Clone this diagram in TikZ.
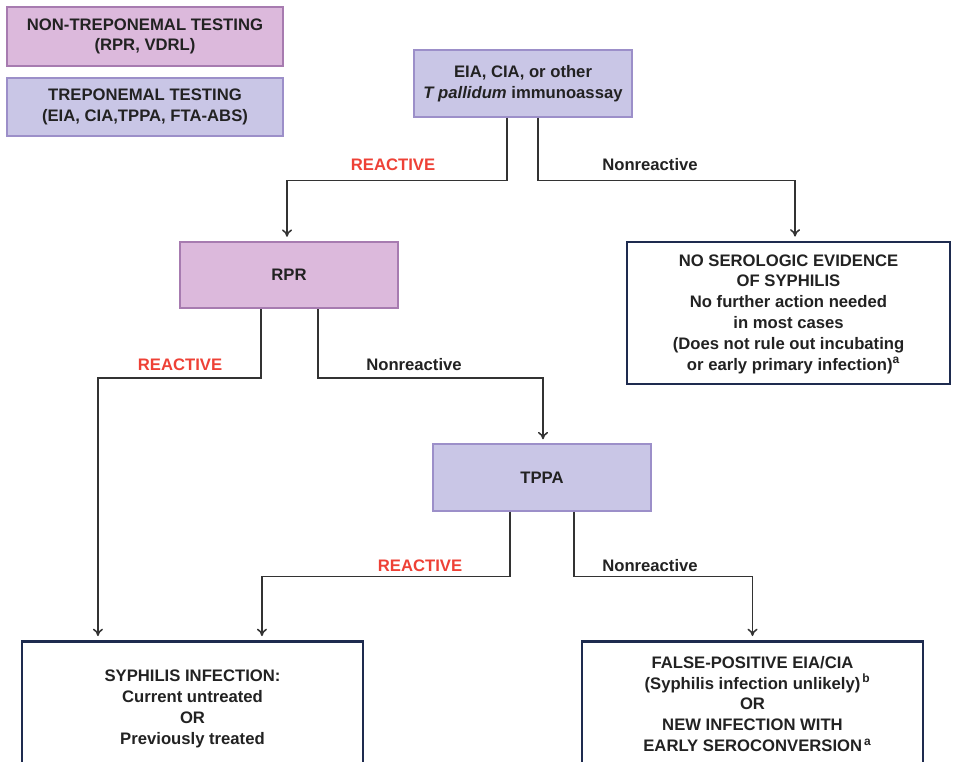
\documentclass[tikz,border=0pt]{standalone}
\usepackage{fontspec}
\setmainfont{Liberation Sans}
\usetikzlibrary{arrows.meta,calc}
\definecolor{pinkfill}{HTML}{DCB9DC}
\definecolor{pinkline}{HTML}{A77BB0}
\definecolor{lavfill}{HTML}{C9C6E6}
\definecolor{lavline}{HTML}{9C8FC9}
\definecolor{navy}{HTML}{1E2B4F}
\definecolor{txt}{HTML}{222222}
\definecolor{redlab}{HTML}{EE4136}
\definecolor{linecol}{HTML}{333333}
\newcommand{\supl}[1]{\raisebox{0.38em}{\fontsize{9}{9}\selectfont #1}}
\begin{document}
\begin{tikzpicture}[x=0.75pt,y=-0.75pt,
  every node/.style={font=\fontsize{12.5}{15.6}\selectfont\bfseries, text=txt, align=center, inner sep=0pt},
  pinkbox/.style={draw=pinkline, fill=pinkfill, line width=1.3pt, minimum width=163.5pt, minimum height=50pt},
  lavbox/.style={draw=lavline, fill=lavfill, line width=1.3pt, minimum width=163.5pt, minimum height=50pt},
  legpink/.style={draw=pinkline, fill=pinkfill, line width=1.3pt, minimum width=207pt, minimum height=44pt},
  leglav/.style={draw=lavline, fill=lavfill, line width=1.3pt, minimum width=207pt, minimum height=44pt},
  resbox/.style={draw=navy, line width=2.2pt, minimum width=255.75pt},
  conn/.style={draw=linecol, line width=1.15pt, -{To[length=5.5pt,width=7.5pt]}, shorten >=3pt},
  reactlab/.style={text=redlab},
  nonlab/.style={text=txt}]
\clip (0,0) rectangle (953,762);
\fill[white] (0,0) rectangle (953,762);

% legend
\node[legpink] (leg1) at (145,36.5) {NON-TREPONEMAL TESTING\\(RPR, VDRL)};
\node[leglav] (leg2) at (145,107) {TREPONEMAL TESTING\\(EIA, CIA,TPPA, FTA-ABS)};

% main boxes
\node[lavbox] (eia) at (523,83.5) {EIA, CIA, or other\\\textit{T pallidum} immunoassay};
\node[pinkbox] (rpr) at (289,275) {RPR};
\node[lavbox] (tppa) at (542,477.5) {TPPA};
\node[resbox, minimum width=242.25pt, minimum height=106.5pt] (noser) at (788.5,313) {};
\node (nosertxt) at (788.5,314) {NO SEROLOGIC EVIDENCE\\OF SYPHILIS\\No further action needed\\in most cases\\(Does not rule out incubating\\\ \ or early primary infection)\supl{a}};
\node[resbox, minimum height=105pt] (syph) at (192.5,711.5) {};
\node (syphtxt) at (192.5,709) {SYPHILIS INFECTION:\\Current untreated\\OR\\Previously treated};
\node[resbox, minimum height=105pt] (fp) at (752.5,711.5) {};
\node (fptxt) at (752.5,704) {FALSE-POSITIVE EIA/CIA\\\ \ (Syphilis infection unlikely)\supl{\,b}\\OR\\NEW INFECTION WITH\\\ \ EARLY SEROCONVERSION\supl{\,a}};

% connectors
\draw[conn] ([xshift=-12pt]eia.south) -- ++(0,63) -| ([xshift=-1.5pt]rpr.north);
\draw[conn] ([xshift=11.25pt]eia.south) -- ++(0,63) -| ([xshift=4.9pt]noser.north);
\draw[conn] ([xshift=-21pt]rpr.south) -- ++(0,69) -| ([xshift=-70.9pt]syph.north);
\draw[conn] ([xshift=21.75pt]rpr.south) -- ++(0,69) -| ([xshift=0.75pt]tppa.north);
\draw[conn] ([xshift=-24pt]tppa.south) -- ++(0,65) -| ([xshift=52.1pt]syph.north);
\draw[conn] ([xshift=24pt]tppa.south) -- ++(0,65) -| (fp.north);

% labels
\node[reactlab] (l1) at (393,165) {REACTIVE};
\node[nonlab] (l2) at (650,165) {Nonreactive};
\node[reactlab] (l3) at (180,365) {REACTIVE};
\node[nonlab] (l4) at (414,365) {Nonreactive};
\node[reactlab] (l5) at (420,566) {REACTIVE};
\node[nonlab] (l6) at (650,566) {Nonreactive};
\end{tikzpicture}
\end{document}
